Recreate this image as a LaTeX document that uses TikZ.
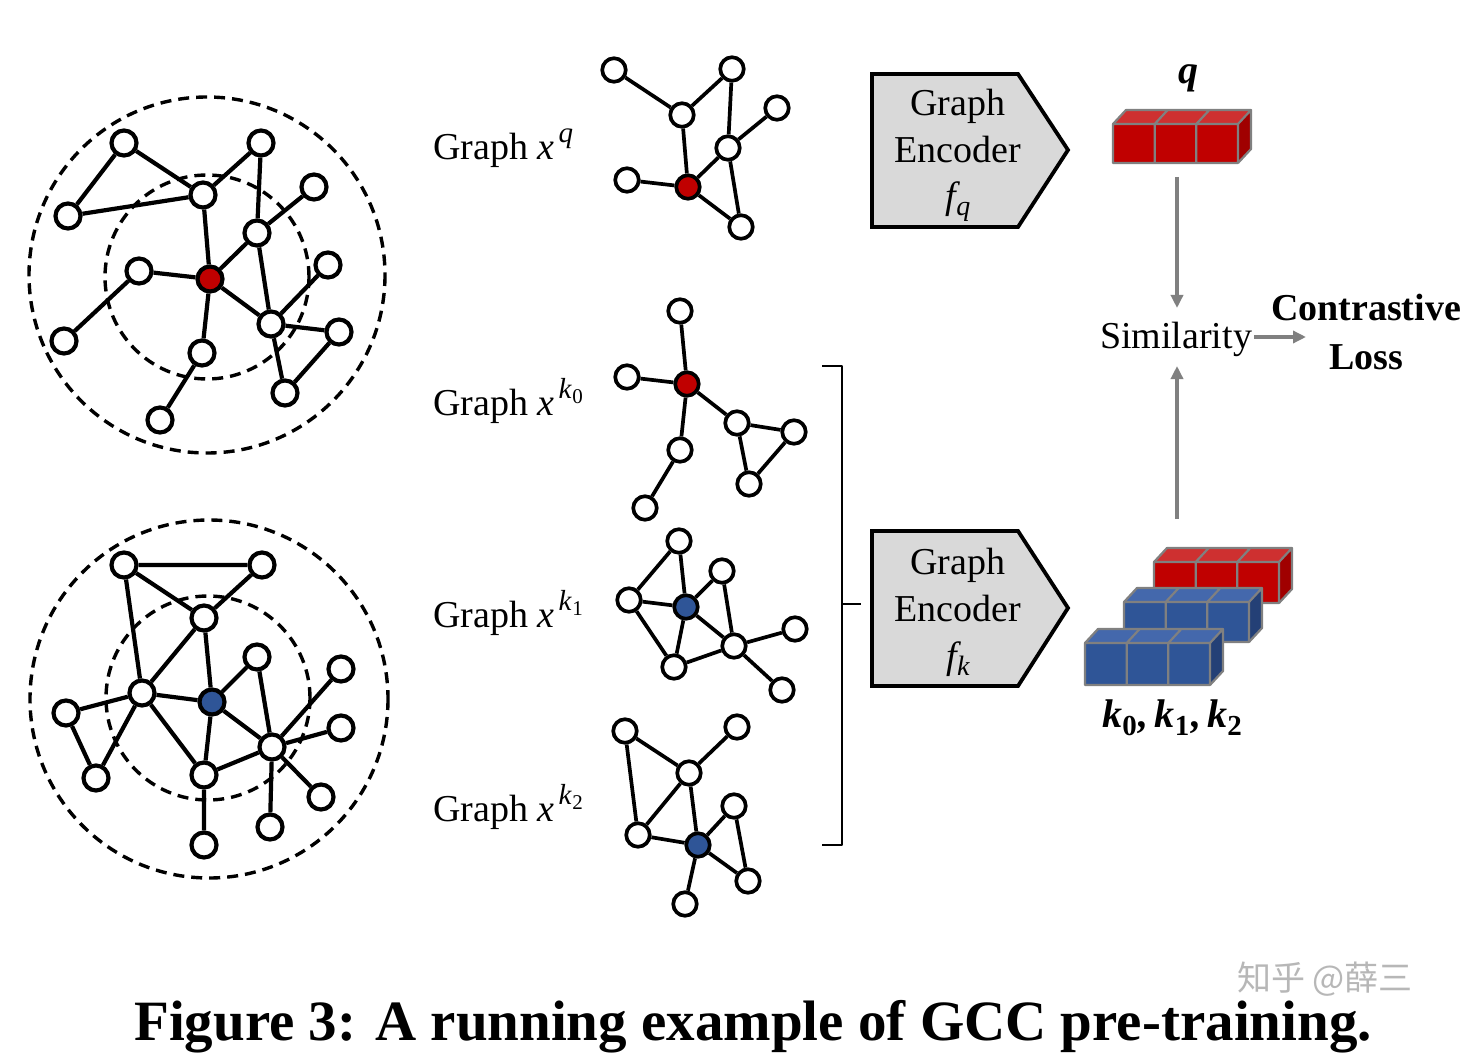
\documentclass[tikz,border=0pt]{standalone}
\usepackage{fontspec}
\setmainfont{Liberation Serif}
\newfontfamily\gcccjk{Noto Sans CJK SC}
\usetikzlibrary{arrows.meta}
\definecolor{gccred}{RGB}{192,0,0}
\definecolor{gccredtop}{RGB}{206,48,48}
\definecolor{gccredside}{RGB}{160,0,0}
\definecolor{gccblue}{RGB}{47,85,151}
\definecolor{gccbluetop}{RGB}{68,104,172}
\definecolor{gccblueside}{RGB}{36,64,118}
\definecolor{cubeedge}{RGB}{128,128,128}
\definecolor{arrowgray}{RGB}{128,128,128}
\definecolor{encgray}{RGB}{217,217,217}
\newcommand{\gccfont}{\fontsize{38}{44}\selectfont}
\newcommand{\supq}{\kern4pt\raisebox{17pt}{\fontsize{29}{29}\selectfont\itshape q}}
\newcommand{\supk}[1]{\kern4pt\raisebox{17pt}{\fontsize{29}{29}\selectfont\itshape k\kern1pt\raisebox{-5pt}{\fontsize{21}{21}\selectfont\upshape #1}}}
\newcommand{\boldk}[1]{{\bfseries\itshape k}\raisebox{-8pt}{\fontsize{29}{29}\selectfont\bfseries #1}}
% cube row: #1 x, #2 y (front top-left), #3 front, #4 top, #5 side, #6 height
\newcommand{\cuberow}[6]{%
  \fill[#4] (#1,#2) -- ++(13,-14) -- ++(125,0) -- ++(-13,14) -- cycle;
  \fill[#5] (#1+125,#2) -- ++(13,-14) -- ++(0,#6) -- ++(-13,14) -- cycle;
  \fill[#3] (#1,#2) rectangle (#1+125,#2+#6);
  \draw[cubeedge,line width=2.2pt,line join=round]
    (#1,#2) -- ++(13,-14) -- ++(125,0) -- ++(-13,14)
    (#1+41.67,#2) -- ++(13,-14) (#1+83.33,#2) -- ++(13,-14)
    (#1+138,#2-14) -- ++(0,#6) -- ++(-13,14)
    (#1,#2) rectangle (#1+125,#2+#6)
    (#1+41.67,#2) -- ++(0,#6) (#1+83.33,#2) -- ++(0,#6);
}
\begin{document}
\begin{tikzpicture}[x=1pt,y=-1pt,
  gnode/.style={circle,draw=black,fill=white,line width=4.2pt,minimum size=25pt,inner sep=0pt},
  snode/.style={gnode,line width=3.7pt,minimum size=23.5pt},
  rnode/.style={fill=gccred},
  bnode/.style={fill=gccblue},
  gedge/.style={line width=4.2pt},
  sedge/.style={line width=3.7pt},
  dcirc/.style={line width=3.4pt,dash pattern=on 11pt off 7pt},
  garrow/.style={draw=arrowgray,line width=3.4pt,-{Triangle[length=13pt,width=12pt]}},
  lbl/.style={anchor=base west,inner sep=0pt,font=\gccfont},
  ctext/.style={anchor=base,inner sep=0pt,font=\gccfont},
  encbox/.style={draw=black,fill=encgray,line width=3.8pt,line join=miter}
]
\useasboundingbox (0,0) rectangle (1480,1059);
\fill[white] (0,0) rectangle (1480,1059);

% ---------- top-left big graph ----------
\draw[dcirc] (207,275) circle (178);
\draw[dcirc] (207,277) circle (102);
\node[gnode] (tA) at (124,143) {};
\node[gnode] (tB) at (261,143) {};
\node[gnode] (tC) at (68,216) {};
\node[gnode] (tD) at (203,195) {};
\node[gnode] (tE) at (314,187) {};
\node[gnode] (tF) at (257,233) {};
\node[gnode] (tG) at (139,271) {};
\node[gnode,rnode] (tR) at (210,279) {};
\node[gnode] (tH) at (328,265) {};
\node[gnode] (tI) at (271,324) {};
\node[gnode] (tJ) at (339,332) {};
\node[gnode] (tK) at (64,341) {};
\node[gnode] (tL) at (202,353) {};
\node[gnode] (tM) at (285,393) {};
\node[gnode] (tN) at (160,420) {};
\draw[gedge] (tA) -- (tC) (tA) -- (tD) (tC) -- (tD) (tB) -- (tD) (tB) -- (tF)
  (tE) -- (tF) (tD) -- (tR) (tF) -- (tR) (tG) -- (tR) (tG) -- (tK)
  (tR) -- (tI) (tR) -- (tL) (tF) -- (tI) (tH) -- (tI) (tI) -- (tJ)
  (tJ) -- (tM) (tI) -- (tM) (tL) -- (tN);

% ---------- bottom-left big graph ----------
\draw[dcirc] (209,699) circle (179);
\draw[dcirc] (208,698) circle (102);
\node[gnode] (ba) at (124,565) {};
\node[gnode] (bb) at (262,565) {};
\node[gnode] (bc) at (204,618) {};
\node[gnode] (bd) at (257,657) {};
\node[gnode] (be) at (341,669) {};
\node[gnode] (bf) at (142,693) {};
\node[gnode,bnode] (bB) at (212,702) {};
\node[gnode] (bg) at (66,713) {};
\node[gnode] (bh) at (341,728) {};
\node[gnode] (bi) at (272,747) {};
\node[gnode] (bj) at (96,778) {};
\node[gnode] (bk) at (204,775) {};
\node[gnode] (bl) at (321,797) {};
\node[gnode] (bm) at (270,827) {};
\node[gnode] (bn) at (204,845) {};
\draw[gedge] (ba) -- (bb) (ba) -- (bc) (bb) -- (bc) (ba) -- (bf) (bc) -- (bf)
  (bc) -- (bB) (bd) -- (bB) (bd) -- (bi) (bf) -- (bB) (bf) -- (bg)
  (bg) -- (bj) (bf) -- (bj) (bf) -- (bk) (bB) -- (bk) (bB) -- (bi)
  (bk) -- (bi) (bi) -- (be) (bi) -- (bh) (bi) -- (bl) (bi) -- (bm) (bk) -- (bn);

% ---------- graph x^q ----------
\node[snode] (p1) at (614,70) {};
\node[snode] (p2) at (732,69) {};
\node[snode] (p3) at (682,115) {};
\node[snode] (p4) at (777,108) {};
\node[snode] (p5) at (728,148) {};
\node[snode] (p6) at (627,180) {};
\node[snode,rnode] (pR) at (688,187) {};
\node[snode] (p7) at (741,227) {};
\draw[sedge] (p1) -- (p3) (p3) -- (p2) (p2) -- (p5) (p5) -- (p4) (p3) -- (pR)
  (pR) -- (p5) (p6) -- (pR) (pR) -- (p7) (p5) -- (p7);

% ---------- graph x^k0 ----------
\node[snode] (q1) at (680,311) {};
\node[snode] (q2) at (627,377) {};
\node[snode,rnode] (qR) at (687,384) {};
\node[snode] (q3) at (737,423) {};
\node[snode] (q4) at (794,432) {};
\node[snode] (q5) at (680,450) {};
\node[snode] (q6) at (749,484) {};
\node[snode] (q7) at (645,508) {};
\draw[sedge] (q1) -- (qR) (q2) -- (qR) (qR) -- (q3) (qR) -- (q5) (q5) -- (q7)
  (q3) -- (q4) (q3) -- (q6) (q4) -- (q6);

% ---------- graph x^k1 ----------
\node[snode] (r1) at (679,541) {};
\node[snode] (r2) at (722,571) {};
\node[snode] (r3) at (629,600) {};
\node[snode,bnode] (rB) at (686,607) {};
\node[snode] (r4) at (795,629) {};
\node[snode] (r5) at (734,646) {};
\node[snode] (r6) at (674,667) {};
\node[snode] (r7) at (782,690) {};
\draw[sedge] (r1) -- (r3) (r1) -- (rB) (r3) -- (rB) (r3) -- (r6) (rB) -- (r6)
  (rB) -- (r2) (r2) -- (r5) (rB) -- (r5) (r6) -- (r5) (r5) -- (r4) (r5) -- (r7);

% ---------- graph x^k2 ----------
\node[snode] (s1) at (625,731) {};
\node[snode] (s2) at (737,727) {};
\node[snode] (s3) at (689,773) {};
\node[snode] (s4) at (734,806) {};
\node[snode] (s5) at (638,835) {};
\node[snode,bnode] (sB) at (698,845) {};
\node[snode] (s6) at (748,881) {};
\node[snode] (s7) at (685,904) {};
\draw[sedge] (s1) -- (s3) (s3) -- (s2) (s1) -- (s5) (s5) -- (s3) (s3) -- (sB)
  (s5) -- (sB) (sB) -- (s4) (s4) -- (s6) (sB) -- (s6) (sB) -- (s7);

% ---------- labels ----------
\node[lbl] (lq) at (433,160) {Graph {\itshape x}\supq};
\node[lbl] (lk0) at (433,415) {Graph {\itshape x}\supk{0}};
\node[lbl] (lk1) at (433,627) {Graph {\itshape x}\supk{1}};
\node[lbl] (lk2) at (433,821) {Graph {\itshape x}\supk{2}};

% ---------- bracket ----------
\draw[line width=1.8pt,line join=round] (822,366) -- (842,366) -- (842,845) -- (822,845);
\draw[line width=1.8pt] (842,604) -- (861,604);

% ---------- encoders ----------
\draw[encbox] (872,74) -- (1018,74) -- (1068,150) -- (1018,227) -- (872,227) -- cycle;
\node[ctext] (e1a) at (958,116) {Graph};
\node[ctext] (e1b) at (958,163) {Encoder};
\node[ctext] (e1c) at (958,209) {{\itshape f}\raisebox{-7pt}{\fontsize{28}{28}\selectfont\itshape q}};
\draw[encbox] (872,531) -- (1018,531) -- (1068,608) -- (1018,686) -- (872,686) -- cycle;
\node[ctext] (e2a) at (958,574) {Graph};
\node[ctext] (e2b) at (958,621) {Encoder};
\node[ctext] (e2c) at (958,668) {{\itshape f}\raisebox{-7pt}{\fontsize{28}{28}\selectfont\itshape k}};

% ---------- cubes ----------
\cuberow{1113}{124}{gccred}{gccredtop}{gccredside}{39}
\cuberow{1154}{562}{gccred}{gccredtop}{gccredside}{41}
\cuberow{1124}{602}{gccblue}{gccbluetop}{gccblueside}{40}
\cuberow{1085}{643}{gccblue}{gccbluetop}{gccblueside}{42}
\node[anchor=base,inner sep=0pt,font=\fontsize{40}{44}\selectfont\bfseries\itshape] (qlab) at (1188,84) {q};
\node[anchor=base,inner sep=0pt,font=\fontsize{40}{44}\selectfont] (klab) at (1172,727)
  {\boldk{0}\kern2pt{\bfseries\itshape ,}\kern6pt\boldk{1}\kern2pt{\bfseries\itshape ,}\kern6pt\boldk{2}};

% ---------- similarity and loss ----------
\node[ctext] (sim) at (1176,348) {Similarity};
\node[ctext,font=\gccfont\bfseries] (closs1) at (1366,320) {Contrastive};
\node[ctext,font=\gccfont\bfseries] (closs2) at (1366,369) {Loss};
\coordinate (qbot) at (1177,177);
\coordinate (simtop) at (1177,308);
\coordinate (kt) at (1177,519);
\coordinate (simbot) at (1177,366);
\coordinate (simr) at (1254,337);
\coordinate (lossl) at (1306,337);
\draw[garrow] (qbot) -- (simtop);
\draw[garrow] (kt) -- (simbot);
\draw[garrow] (simr) -- (lossl);

% ---------- caption ----------
\node[anchor=base,inner sep=0pt,font=\fontsize{57}{60}\selectfont\bfseries] (cap) at (753,1040)
  {Figure 3: A running example of GCC pre-training.};
\node[anchor=base,inner sep=0pt,text=gray!70,opacity=0.8,font=\fontsize{34}{38}\selectfont\gcccjk] (wm) at (1325,990)
  {知乎 @薛三};
\end{tikzpicture}
\end{document}
